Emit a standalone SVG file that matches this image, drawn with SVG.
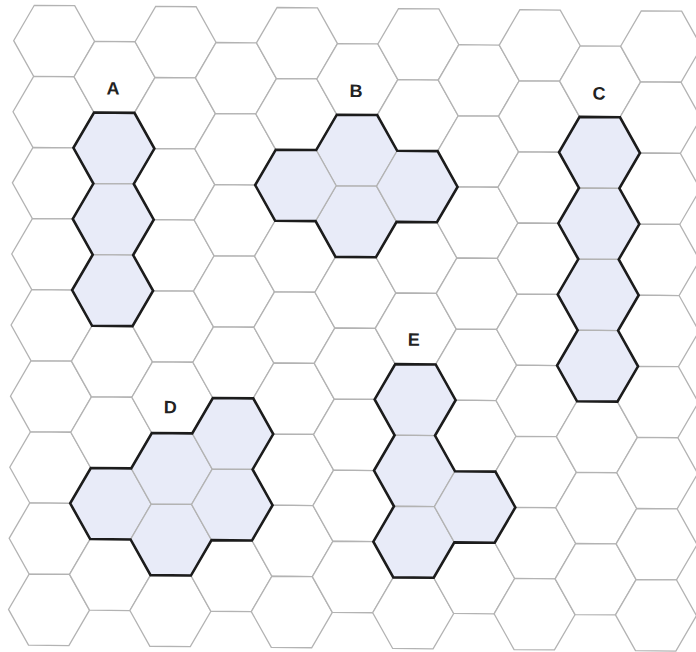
<svg xmlns="http://www.w3.org/2000/svg" xmlns:xlink="http://www.w3.org/1999/xlink" width="696" height="652" viewBox="0 0 696 652">
<style>
.g{fill:#fff;stroke:#b3b3b3;stroke-width:1.3}
.s{fill:#e8ebf8;stroke:#b3b3b3;stroke-width:1.3}
.o{fill:none;stroke:#1c1c1c;stroke-width:2.6;stroke-linejoin:miter}
.lbl{font-family:"Liberation Sans",Arial,sans-serif;font-weight:bold;font-size:18px;fill:#222;text-anchor:middle}
</style>
<defs>
<path id="hx" d="M-20.2,-35.55 L20.2,-35.55 L40.5,0 L20.2,35.55 L-20.2,35.55 L-40.5,0 Z"/>
<g id="colE" class="g">
<use href="#hx" y="43.7"/><use href="#hx" y="114.8"/><use href="#hx" y="185.9"/><use href="#hx" y="257"/><use href="#hx" y="328.1"/><use href="#hx" y="399.2"/><use href="#hx" y="470.3"/><use href="#hx" y="541.4"/><use href="#hx" y="612.5"/>
</g>
<g id="colO" class="g">
<use href="#hx" y="79.25"/><use href="#hx" y="150.35"/><use href="#hx" y="221.45"/><use href="#hx" y="292.55"/><use href="#hx" y="363.65"/><use href="#hx" y="434.75"/><use href="#hx" y="505.85"/><use href="#hx" y="576.95"/>
</g>
</defs>
<rect width="696" height="652" fill="#fff"/>
<g transform="rotate(0.52 348 326)">
<g id="grid">
<use href="#colE" x="51.6"/><use href="#colO" x="112.3"/><use href="#colE" x="173"/><use href="#colO" x="233.7"/><use href="#colE" x="294.4"/><use href="#colO" x="355.1"/><use href="#colE" x="415.8"/><use href="#colO" x="476.5"/><use href="#colE" x="537.2"/><use href="#colO" x="597.9"/><use href="#colE" x="658.6"/>
</g>
<g id="shape-A">
<use href="#hx" class="s" x="112.3" y="150.35"/><use href="#hx" class="s" x="112.3" y="221.45"/><use href="#hx" class="s" x="112.3" y="292.55"/>
<path class="o" d="M92.1,114.8 L132.5,114.8 L152.8,150.35 L132.5,185.9 L152.8,221.45 L132.5,257 L152.8,292.55 L132.5,328.1 L92.1,328.1 L71.8,292.55 L92.1,257 L71.8,221.45 L92.1,185.9 L71.8,150.35 Z"/>
<text class="lbl" x="111" y="96.6">A</text>
</g>
<g id="shape-B">
<use href="#hx" class="s" x="355.1" y="150.35"/><use href="#hx" class="s" x="355.1" y="221.45"/><use href="#hx" class="s" x="294.4" y="185.9"/><use href="#hx" class="s" x="415.8" y="185.9"/>
<path class="o" d="M334.9,114.8 L375.3,114.8 L395.6,150.35 L436,150.35 L456.3,185.9 L436,221.45 L395.6,221.45 L375.3,257 L334.9,257 L314.6,221.45 L274.2,221.45 L253.9,185.9 L274.2,150.35 L314.6,150.35 Z"/>
<text class="lbl" x="354" y="97.1">B</text>
</g>
<g id="shape-C">
<use href="#hx" class="s" x="597.9" y="150.35"/><use href="#hx" class="s" x="597.9" y="221.45"/><use href="#hx" class="s" x="597.9" y="292.55"/><use href="#hx" class="s" x="597.9" y="363.65"/>
<path class="o" d="M577.7,114.8 L618.1,114.8 L638.4,150.35 L618.1,185.9 L638.4,221.45 L618.1,257 L638.4,292.55 L618.1,328.1 L638.4,363.65 L618.1,399.2 L577.7,399.2 L557.4,363.65 L577.7,328.1 L557.4,292.55 L577.7,257 L557.4,221.45 L577.7,185.9 L557.4,150.35 Z"/>
<text class="lbl" x="597" y="97.2">C</text>
</g>
<g id="shape-D">
<use href="#hx" class="s" x="112.3" y="505.85"/><use href="#hx" class="s" x="173" y="470.3"/><use href="#hx" class="s" x="173" y="541.4"/><use href="#hx" class="s" x="233.7" y="434.75"/><use href="#hx" class="s" x="233.7" y="505.85"/>
<path class="o" d="M213.5,399.2 L253.9,399.2 L274.2,434.75 L253.9,470.3 L274.2,505.85 L253.9,541.4 L213.5,541.4 L193.2,576.95 L152.8,576.95 L132.5,541.4 L92.1,541.4 L71.8,505.85 L92.1,470.3 L132.5,470.3 L152.8,434.75 L193.2,434.75 Z"/>
<text class="lbl" x="171" y="414.8">D</text>
</g>
<g id="shape-E">
<use href="#hx" class="s" x="415.8" y="399.2"/><use href="#hx" class="s" x="415.8" y="470.3"/><use href="#hx" class="s" x="415.8" y="541.4"/><use href="#hx" class="s" x="476.5" y="505.85"/>
<path class="o" d="M395.6,363.65 L436,363.65 L456.3,399.2 L436,434.75 L456.3,470.3 L496.7,470.3 L517,505.85 L496.7,541.4 L456.3,541.4 L436,576.95 L395.6,576.95 L375.3,541.4 L395.6,505.85 L375.3,470.3 L395.6,434.75 L375.3,399.2 Z"/>
<text class="lbl" x="414" y="345.2">E</text>
</g>
</g>
</svg>
